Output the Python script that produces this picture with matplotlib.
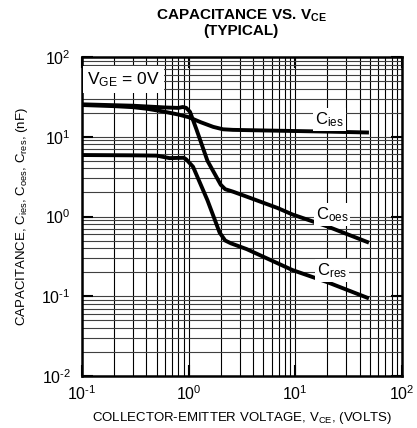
import numpy as np
import matplotlib
matplotlib.use("Agg")
from matplotlib import pyplot as plt
from matplotlib.ticker import LogLocator, NullFormatter, FuncFormatter

plt.rcParams['font.family'] = ['Liberation Sans', 'DejaVu Sans']
plt.rcParams['mathtext.fontset'] = 'custom'
plt.rcParams['mathtext.rm'] = 'Liberation Sans'
plt.rcParams['mathtext.it'] = 'Liberation Sans'
plt.rcParams['mathtext.bf'] = 'Liberation Sans:bold'

# curve data (VCE in volts, capacitance in nF)
cies_v = [0.1, 0.2, 0.3, 0.4, 0.55, 0.8, 1.0, 1.3, 1.7, 2.1, 2.6, 5, 10, 20, 49]
cies_c = [25, 24.2, 23.5, 22.5, 21.0, 19.0, 17.6, 15.2, 13.3, 12.4, 12.2, 12.0, 11.8, 11.6, 11.3]

coes_v = [0.1, 0.3, 0.6, 0.8, 0.88, 0.95, 1.03, 1.18, 1.5, 2.0, 2.2, 2.6, 3.4, 6.8, 9.4, 20, 49]
coes_c = [25.5, 24.5, 23.3, 23.0, 23.6, 23.0, 20.5, 12.5, 5.0, 2.5, 2.2, 2.05, 1.8, 1.28, 1.06, 0.75, 0.47]

cres_v = [0.1, 0.3, 0.5, 0.66, 0.9, 0.95, 1.1, 1.5, 1.95, 2.2, 2.5, 3.5, 9.4, 20, 49]
cres_c = [5.9, 5.85, 5.8, 5.4, 5.45, 5.2, 4.2, 1.6, 0.63, 0.5, 0.46, 0.39, 0.213, 0.15, 0.094]


def dec_label(v, pos):
    e = int(round(np.log10(v)))
    # hyphen instead of the long minus, like the datasheet
    return r'$\mathregular{10^{\text{%s}}}$' % str(e)


fig = plt.figure(figsize=(4.17, 4.28), dpi=100)
ax = fig.add_axes([0.1966, 0.1215, 0.7674, 0.7453])

ax.set_xscale('log')
ax.set_yscale('log')
ax.set_xlim(0.1, 100)
ax.set_ylim(0.01, 100)

ax.xaxis.set_major_locator(LogLocator(base=10, numticks=10))
ax.yaxis.set_major_locator(LogLocator(base=10, numticks=10))
ax.xaxis.set_major_formatter(FuncFormatter(dec_label))
ax.yaxis.set_major_formatter(FuncFormatter(dec_label))
ax.xaxis.set_minor_locator(LogLocator(base=10, subs=np.arange(2, 10), numticks=20))
ax.yaxis.set_minor_locator(LogLocator(base=10, subs=np.arange(2, 10), numticks=20))
ax.xaxis.set_minor_formatter(NullFormatter())
ax.yaxis.set_minor_formatter(NullFormatter())

ax.grid(True, which='both', axis='x', color='black', lw=0.8)
ax.grid(True, which='both', axis='y', color='0.25', lw=0.8)

ax.tick_params(which='major', direction='in', length=8, width=1.5,
               top=True, right=True, labelsize=11.5, pad=6)
ax.tick_params(axis='y', which='major', pad=8)
ax.tick_params(which='minor', length=0)
for s in ax.spines.values():
    s.set_linewidth(1.8)

ax.plot(cies_v, cies_c, color='black', lw=2.8, solid_capstyle='butt')
ax.plot(coes_v, coes_c, color='black', lw=2.8, solid_capstyle='butt')
ax.plot(cres_v, cres_c, color='black', lw=2.8, solid_capstyle='butt')

box = dict(facecolor='white', edgecolor='none', pad=1.5)
ax.text(21, 16.5, r'C$_{\mathregular{ies}}$', fontsize=12, ha='center', va='center', bbox=box)
ax.text(22, 1.05, r'C$_{\mathregular{oes}}$', fontsize=12, ha='center', va='center', bbox=box)
ax.text(22, 0.21, r'C$_{\mathregular{res}}$', fontsize=12, ha='center', va='center', bbox=box)
ax.text(0.112, 52, r'V$_{\mathregular{GE}}$ = 0V', fontsize=12.5, ha='left', va='center',
        bbox=dict(facecolor='white', edgecolor='none', pad=3))

ax.set_xlabel(r'COLLECTOR-EMITTER VOLTAGE, V$_{\mathregular{CE}}$, (VOLTS)', fontsize=9.5, labelpad=5)
ax.set_ylabel(r'CAPACITANCE, C$_{\mathregular{ies}}$, C$_{\mathregular{oes}}$, C$_{\mathregular{res}}$, (nF)',
              fontsize=9.5, labelpad=8)

fig.text(0.578, 0.962, r'CAPACITANCE VS. V$_{\mathbf{CE}}$', fontsize=11, fontweight='bold',
         ha='center', va='center')
fig.text(0.578, 0.928, '(TYPICAL)', fontsize=11, fontweight='bold', ha='center', va='center')

fig.savefig('out.png', dpi=100)
